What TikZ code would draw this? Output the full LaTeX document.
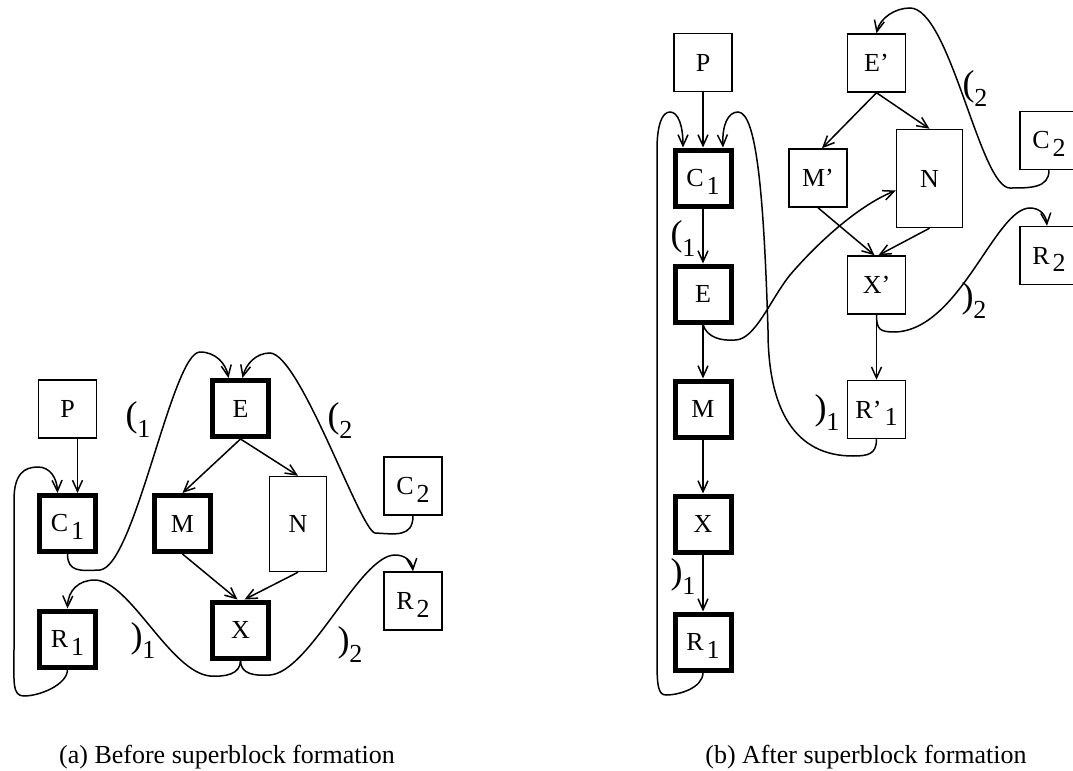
\documentclass[tikz,border=0pt]{standalone}
\usepackage{fontspec}
\setmainfont{Liberation Serif}
\usetikzlibrary{arrows.meta}
\newcommand{\lowsub}[1]{\kern0.12em\raisebox{-0.3em}[0pt][0pt]{#1}}
\newcommand{\lowpar}[2]{{\fontsize{18}{18}\selectfont #1}\raisebox{-5.5pt}{#2}}

\begin{document}
\begin{tikzpicture}[x=0.5pt, y=-0.5pt,
    every node/.style={font=\fontsize{13}{15}\selectfont},
    blk/.style={draw, line width=0.75pt, minimum width=29pt, minimum height=29pt, inner sep=0pt},
    hot/.style={blk, line width=2.5pt, minimum width=28pt, minimum height=28pt},
    edge/.style={line width=0.75pt, -{Straight Barb[length=5.5pt,width=5pt]}},
    tag/.style={inner sep=0pt}]
  \useasboundingbox (0,0) rectangle (1073,771);

  % (a) before superblock formation
  \node[blk] (aP) at (67.5,409) {P};
  \node[hot] (aC1) at (67.5,523.5) {C\lowsub{1}};
  \node[hot] (aR1) at (67.5,639) {R\lowsub{1}};
  \node[hot] (aE) at (240.5,408.5) {E};
  \node[hot] (aM) at (182.5,523.5) {M};
  \node[blk, minimum width=28.5pt, minimum height=47.5pt] (aN) at (298,524) {N};
  \node[hot] (aX) at (240.5,630) {X};
  \node[blk] (aC2) at (413,486) {C\lowsub{2}};
  \node[blk] (aR2) at (413,601) {R\lowsub{2}};

  \draw[edge] ([xshift=5pt]aP.south) -- ([xshift=5pt]aC1.north);
  \draw[edge] (aE.south) -- (aM.north);
  \draw[edge] (aE.south) -- (aN.north);
  \draw[edge] (aM.south) -- ([xshift=-1.5pt]aX.north);
  \draw[edge] (aN.south) -- ([xshift=2pt]aX.north);

  \draw[edge] (aC1.south) .. controls +(0,18) and (80,571) .. (100,570)
    .. controls (135,566) and (172,352) .. (200,352)
    .. controls (216,352) and (226,364) .. ([xshift=-6pt]aE.north);
  \draw[edge] (aC2.south) .. controls +(0,22) and (395,534) .. (375,533)
    .. controls (360,530) and (300,354) .. (270,353)
    .. controls (256,353) and (246,364) .. ([xshift=1pt]aE.north);
  \draw[edge] (aX.south) .. controls +(0,14) and (225,677) .. (210,676)
    .. controls (170,672) and (130,581) .. (95,580)
    .. controls (79,580) and (68,590) .. (aR1.north);
  \draw[edge] (aX.south) .. controls +(0,14) and (255,676) .. (270,675)
    .. controls (310,672) and (360,555) .. (395,555)
    .. controls (405,555) and (412,561) .. (aR2.north);
  \draw[edge] (aR1.south) .. controls +(0,15) and (40,696) .. (24,696)
    .. controls (12,696) and (14,682) .. (14,650) -- (14,500)
    .. controls (14,474) and (24,467) .. (38,467)
    .. controls (50,467) and (57,478) .. ([xshift=-5pt]aC1.north);

  \node[tag] at (138,420) {\lowpar{(}{1}};
  \node[tag] at (143,641) {\lowpar{)}{1}};
  \node[tag] at (340,421) {\lowpar{(}{2}};
  \node[tag] at (350,645) {\lowpar{)}{2}};

  \node[anchor=base] (capa) at (227,763) {(a) Before superblock formation};

  % (b) after superblock formation
  \node[blk] (bP) at (703,62.5) {P};
  \node[hot] (bC1) at (703,178) {C\lowsub{1}};
  \node[hot] (bE) at (703,294) {E};
  \node[hot] (bM) at (703,409) {M};
  \node[hot] (bX) at (703,524) {X};
  \node[hot] (bR1) at (703,642) {R\lowsub{1}};
  \node[blk] (bEp) at (876.5,63) {E'};
  \node[blk] (bMp) at (818,178) {M'};
  \node[blk, minimum width=33pt, minimum height=49pt] (bN) at (929.5,178.5) {N};
  \node[blk] (bXp) at (876.5,285) {X'};
  \node[blk] (bRp) at (876.5,409.5) {R'\lowsub{1}};
  \node[blk] (bC2) at (1049,140.5) {C\lowsub{2}};
  \node[blk] (bR2) at (1049,255.5) {R\lowsub{2}};

  \draw[edge] (bP.south) -- (bC1.north);
  \draw[edge] (bC1.south) -- (bE.north);
  \draw[edge] (bE.south) -- (bM.north);
  \draw[edge] (bM.south) -- (bX.north);
  \draw[edge] (bX.south) -- (bR1.north);
  \draw[edge] (bEp.south) -- ([xshift=2pt]bMp.north);
  \draw[edge] (bEp.south) -- (bN.north);
  \draw[edge] (bMp.south) -- ([xshift=-1pt]bXp.north);
  \draw[edge] (bN.south) -- ([xshift=1pt]bXp.north);
  \draw[edge] (bXp.south) -- (bRp.north);

  \draw[edge] (bR1.south) .. controls +(0,15) and (680,695) .. (666,695)
    .. controls (658,695) and (657,685) .. (657,660) -- (657,150)
    .. controls (657,125) and (662,112) .. (670,112)
    .. controls (678,112) and (683,125) .. ([xshift=-10pt]bC1.north);
  \draw[edge] (bRp.south) .. controls +(0,15) and (868,456) .. (853,456)
    .. controls (795,456) and (768,410) .. (768,330)
    .. controls (764,200) and (757,112) .. (738,112)
    .. controls (728,112) and (722,125) .. ([xshift=10pt]bC1.north);
  \draw[edge] (bE.south) .. controls (707,338) and (722,341) .. (735,340)
    .. controls (755,340) and (770,300) .. (790,275)
    .. controls (820,240) and (860,205) .. ([yshift=-6pt]bN.west);
  \draw[edge] (bXp.south) .. controls +(0,15) and (880,332) .. (895,332)
    .. controls (960,330) and (995,208) .. (1030,208)
    .. controls (1040,208) and (1046,215) .. ([xshift=-1pt]bR2.north);
  \draw[edge] (bC2.south) .. controls +(0,18) and (1030,188) .. (1010,188)
    .. controls (980,188) and (950,8) .. (910,8)
    .. controls (895,8) and (880,18) .. (bEp.north);

  \node[tag] at (683,239) {\lowpar{(}{1}};
  \node[tag] at (683,577) {\lowpar{)}{1}};
  \node[tag] at (827,413) {\lowpar{)}{1}};
  \node[tag] at (975,89) {\lowpar{(}{2}};
  \node[tag] at (974,301) {\lowpar{)}{2}};

  \node[anchor=base] (capb) at (866,763) {(b) After superblock formation};
\end{tikzpicture}
\end{document}
